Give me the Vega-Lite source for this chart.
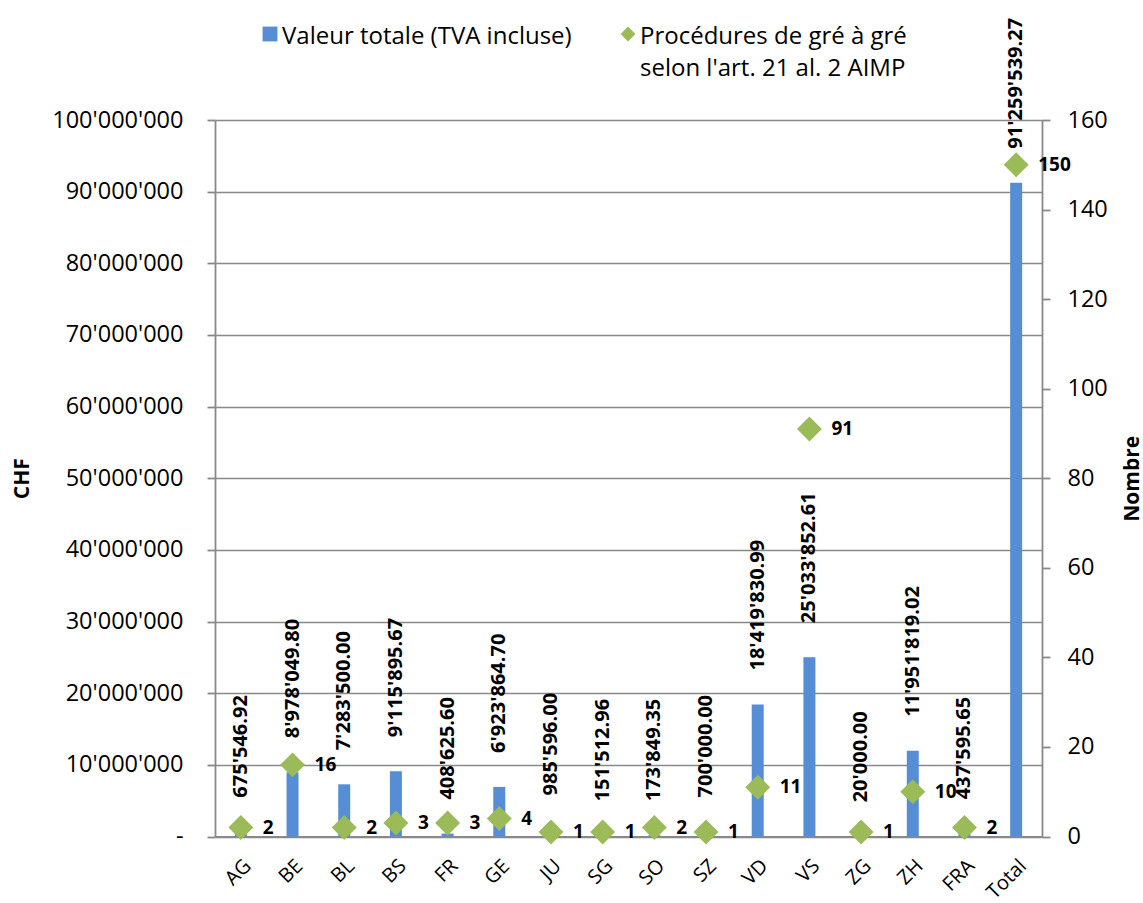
{
  "$schema": "https://vega.github.io/schema/vega-lite/v6.json",
  "autosize": {"type": "none"},
  "width": 827,
  "height": 716.5,
  "padding": {"left": 215, "top": 120, "right": 101, "bottom": 66.5},
  "background": "white",
  "config": {
    "locale": {"number": {"decimal": ".", "thousands": "'", "grouping": [3], "currency": ["", ""]}},
    "view": {"stroke": null},
    "font": "Open Sans",
    "axis": {"domainColor": "#898989", "domainWidth": 1.8, "tickColor": "#898989", "tickWidth": 1.8, "gridColor": "#898989", "gridWidth": 1.6, "labelColor": "#000000", "titleColor": "#000000", "labelFont": "Open Sans", "titleFont": "Open Sans"}
  },
  "data": {"values": [
    {"canton": "AG", "valeur": 675546.92, "nombre": 2},
    {"canton": "BE", "valeur": 8978049.80, "nombre": 16},
    {"canton": "BL", "valeur": 7283500.00, "nombre": 2},
    {"canton": "BS", "valeur": 9115895.67, "nombre": 3},
    {"canton": "FR", "valeur": 408625.60, "nombre": 3},
    {"canton": "GE", "valeur": 6923864.70, "nombre": 4},
    {"canton": "JU", "valeur": 985596.00, "nombre": 1},
    {"canton": "SG", "valeur": 151512.96, "nombre": 1},
    {"canton": "SO", "valeur": 173849.35, "nombre": 2},
    {"canton": "SZ", "valeur": 700000.00, "nombre": 1},
    {"canton": "VD", "valeur": 18419830.99, "nombre": 11},
    {"canton": "VS", "valeur": 25033852.61, "nombre": 91},
    {"canton": "ZG", "valeur": 20000.00, "nombre": 1},
    {"canton": "ZH", "valeur": 11951819.02, "nombre": 10},
    {"canton": "FRA", "valeur": 437595.65, "nombre": 2},
    {"canton": "Total", "valeur": 91259539.27, "nombre": 150}
  ]},
  "encoding": {
    "x": {"field": "canton", "type": "nominal", "sort": null, "title": null,
      "scale": {"paddingInner": 0, "paddingOuter": 0},
      "axis": {"labelAngle": -45, "labelFontSize": 20, "labelPadding": 19, "ticks": false, "domainWidth": 2}}
  },
  "layer": [
    {
      "encoding": {
        "y": {"field": "valeur", "type": "quantitative", "title": "CHF",
          "scale": {"domain": [0, 100000000], "nice": false},
          "axis": {"orient": "left", "values": [0,10000000,20000000,30000000,40000000,50000000,60000000,70000000,80000000,90000000,100000000], "labelExpr": "datum.value == 0 ? '-' : format(datum.value, ',.0f')", "labelFontSize": 23.5, "labelPadding": 24, "tickSize": 8, "grid": true, "domain": true, "titleFontSize": 21, "titleFontWeight": "bold", "titleX": -193, "titleBaseline": "middle", "titleAngle": 270}}
      },
      "layer": [
        {
          "mark": {"type": "bar", "size": 12},
          "encoding": {
            "color": {"datum": "Valeur totale (TVA incluse)", "type": "nominal",
              "scale": {"domain": ["Valeur totale (TVA incluse)", "Procédures de gré à gré selon l'art. 21 al. 2 AIMP"], "range": ["#558ED5", "#9BBB59"]},
              "legend": {"orient": "none", "legendX": 43, "legendY": -98, "direction": "horizontal", "title": null, "labelFont": "Open Sans", "labelFontSize": 24, "labelColor": "#000000", "symbolSize": 220, "symbolStrokeWidth": 0, "labelOffset": 0, "columnPadding": 44, "padding": 0, "labelLimit": 500, "labelBaseline": "middle",
                "labelExpr": "datum.label == 'Valeur totale (TVA incluse)' ? [datum.label, ' '] : ['Procédures de gré à gré', 'selon l\\'art. 21 al. 2 AIMP']",
                "encode": {"labels": {"update": {"dy": {"value": 3}, "lineHeight": {"value": 32}}}}}}
          }
        },
        {
          "mark": {"type": "text", "angle": 270, "align": "left", "baseline": "middle", "dx": 34, "fontSize": 20, "fontWeight": "bold", "color": "#000000"},
          "encoding": {
            "text": {"field": "valeur", "type": "quantitative", "format": ",.2f"}
          }
        }
      ]
    },
    {
      "encoding": {
        "y": {"field": "nombre", "type": "quantitative", "title": "Nombre",
          "scale": {"domain": [0, 160], "nice": false},
          "axis": {"orient": "right", "values": [0,20,40,60,80,100,120,140,160], "labelFontSize": 23.5, "labelPadding": 17, "tickSize": 8, "grid": false, "titleFontSize": 21, "titleFontWeight": "bold", "titleX": 90, "titleBaseline": "middle", "titleAngle": 270}}
      },
      "layer": [
        {
          "mark": {"type": "point", "filled": true, "opacity": 1, "size": 620},
          "encoding": {
            "color": {"datum": "Procédures de gré à gré selon l'art. 21 al. 2 AIMP", "type": "nominal"},
            "shape": {"datum": "Procédures de gré à gré selon l'art. 21 al. 2 AIMP", "type": "nominal",
              "scale": {"domain": ["Valeur totale (TVA incluse)", "Procédures de gré à gré selon l'art. 21 al. 2 AIMP"], "range": ["square", "diamond"]}}
          }
        },
        {
          "mark": {"type": "text", "align": "left", "baseline": "middle", "dx": 22, "fontSize": 19, "fontWeight": "bold", "color": "#000000"},
          "encoding": {
            "text": {"field": "nombre", "type": "quantitative"}
          }
        }
      ]
    }
  ],
  "resolve": {"scale": {"y": "independent"}}
}
